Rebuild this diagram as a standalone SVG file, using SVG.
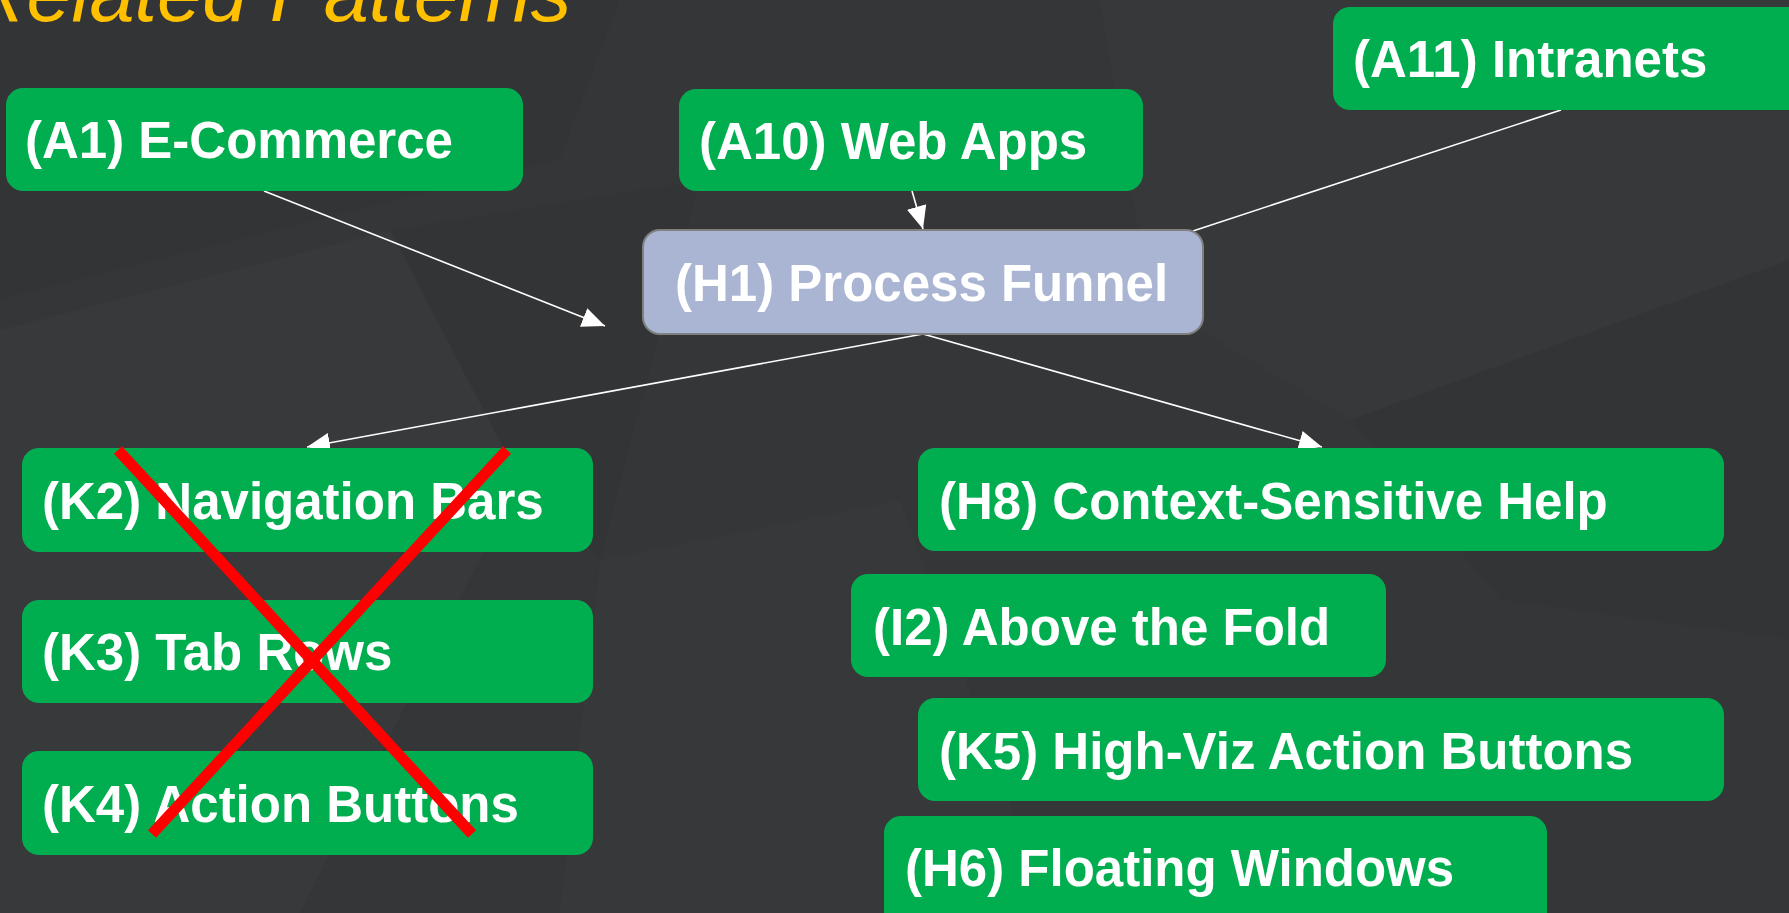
<svg xmlns="http://www.w3.org/2000/svg" width="1789" height="913" viewBox="0 0 1789 913">
  <defs>
    <style>
      .node { fill: #00AE50; }
      .focus { fill: #A9B5D3; stroke: #808080; stroke-width: 2; }
      .label { font-family: "Liberation Sans", Arial, sans-serif; font-weight: bold; font-size: 51px; fill: #FFFFFF; }
      .edge { stroke: #FFFFFF; stroke-width: 1.6; fill: none; }
      .cross { stroke: #FF0000; stroke-width: 11; stroke-linecap: butt; }
      .facet { fill: #FFFFFF; }
      .shade { fill: #000000; }
    </style>
    <marker id="arrow" viewBox="0 0 23 20" refX="23" refY="10" markerWidth="23" markerHeight="20" markerUnits="userSpaceOnUse" orient="auto">
      <path d="M0,0 L23,10 L0,20 Z" fill="#FFFFFF"/>
    </marker>
  </defs>

  <!-- background -->
  <rect x="0" y="0" width="1789" height="913" fill="#353637"/>
  <g id="background-facets">
    <polygon class="facet" opacity="0.015" points="0,330 390,230 520,480 300,913 0,913"/>
    <polygon class="shade" opacity="0.025" points="390,230 700,180 600,560 520,480"/>
    <polygon class="facet" opacity="0.012" points="1100,0 1789,0 1789,260 1350,420 1150,300"/>
    <polygon class="shade" opacity="0.02" points="1350,420 1789,260 1789,640 1500,600"/>
    <polygon class="facet" opacity="0.012" points="600,560 900,500 1050,913 560,913"/>
    <polygon class="shade" opacity="0.02" points="0,0 620,0 560,160 0,300"/>
  </g>

  <!-- title -->
  <text id="title" x="-32" y="21" font-family="'Liberation Sans', Arial, sans-serif" font-style="italic" font-size="81" fill="#FFC000">Related Patterns</text>

  <!-- connectors -->
  <g id="connectors">
    <line class="edge" x1="264" y1="191" x2="605" y2="326" marker-end="url(#arrow)"/>
    <line class="edge" x1="912" y1="191" x2="923" y2="229" marker-end="url(#arrow)"/>
    <line class="edge" x1="1561" y1="110" x2="1193" y2="231"/>
    <line class="edge" x1="923" y1="334" x2="307" y2="447" marker-end="url(#arrow)"/>
    <line class="edge" x1="923" y1="334" x2="1322" y2="447" marker-end="url(#arrow)"/>
  </g>

  <!-- nodes -->
  <g id="node-A1">
    <rect class="node" x="6" y="88" width="517" height="103" rx="17"/>
    <text class="label" x="25" y="158">(A1) E-Commerce</text>
  </g>
  <g id="node-A10">
    <rect class="node" x="679" y="89" width="464" height="102" rx="17"/>
    <text class="label" x="699" y="159">(A10) Web Apps</text>
  </g>
  <g id="node-A11">
    <rect class="node" x="1333" y="7" width="480" height="103" rx="17"/>
    <text class="label" x="1353" y="77">(A11) Intranets</text>
  </g>
  <g id="node-H1">
    <rect class="focus" x="643" y="230" width="560" height="104" rx="17"/>
    <text class="label" x="675" y="301">(H1) Process Funnel</text>
  </g>
  <g id="node-K2">
    <rect class="node" x="22" y="448" width="571" height="104" rx="17"/>
    <text class="label" x="42" y="519">(K2) Navigation Bars</text>
  </g>
  <g id="node-K3">
    <rect class="node" x="22" y="600" width="571" height="103" rx="17"/>
    <text class="label" x="42" y="670">(K3) Tab Rows</text>
  </g>
  <g id="node-K4">
    <rect class="node" x="22" y="751" width="571" height="104" rx="17"/>
    <text class="label" x="42" y="822">(K4) Action Buttons</text>
  </g>
  <g id="node-H8">
    <rect class="node" x="918" y="448" width="806" height="103" rx="17"/>
    <text class="label" x="939" y="519">(H8) Context-Sensitive Help</text>
  </g>
  <g id="node-I2">
    <rect class="node" x="851" y="574" width="535" height="103" rx="17"/>
    <text class="label" x="873" y="645">(I2) Above the Fold</text>
  </g>
  <g id="node-K5">
    <rect class="node" x="918" y="698" width="806" height="103" rx="17"/>
    <text class="label" x="939" y="769">(K5) High-Viz Action Buttons</text>
  </g>
  <g id="node-H6">
    <rect class="node" x="884" y="816" width="663" height="115" rx="17"/>
    <text class="label" x="905" y="886">(H6) Floating Windows</text>
  </g>

  <!-- red cross -->
  <g id="cross">
    <line class="cross" x1="118" y1="450" x2="472" y2="834"/>
    <line class="cross" x1="507" y1="450" x2="152" y2="834"/>
  </g>
</svg>
